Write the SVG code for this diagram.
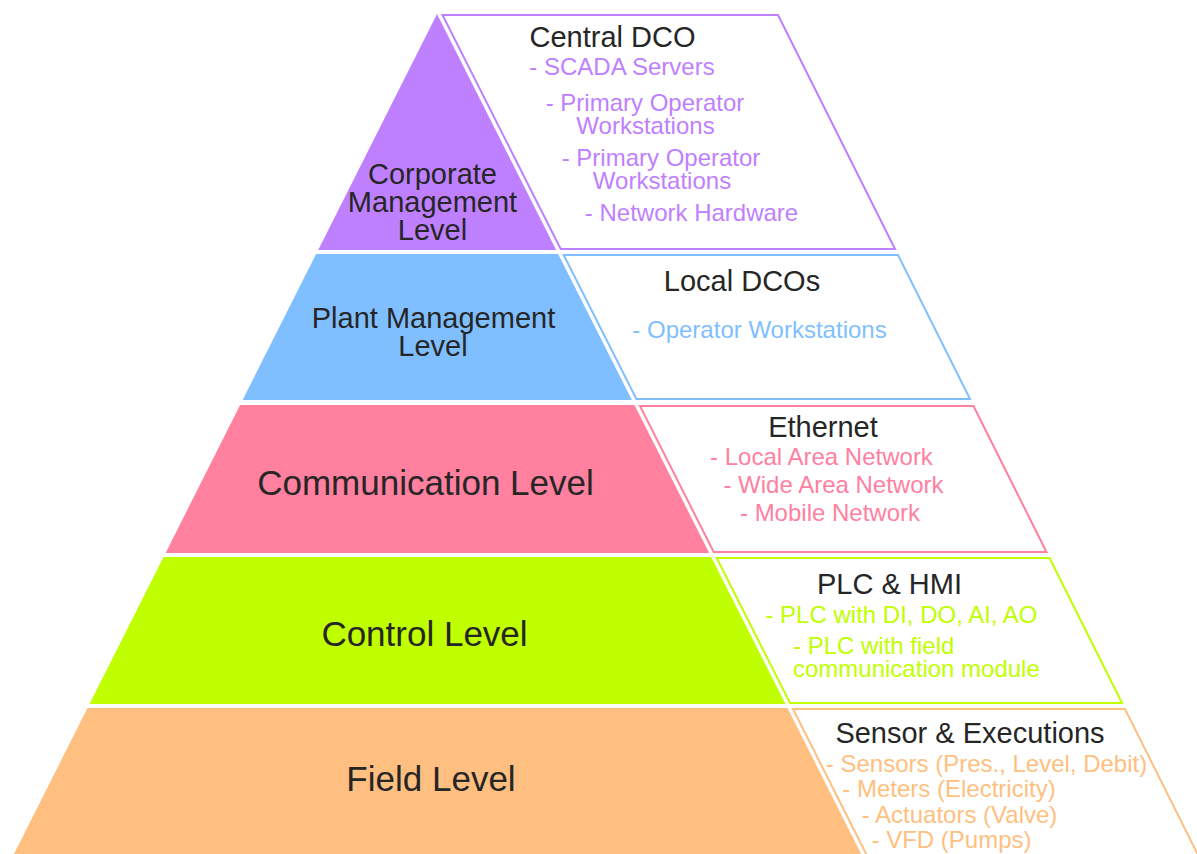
<svg xmlns="http://www.w3.org/2000/svg" width="1197" height="854" viewBox="0 0 1197 854">
<style>
  text { font-family: "Liberation Sans", Arial, sans-serif; text-anchor: middle; }
  .lbl { fill: #262626; }
  .l29 { font-size: 29px; }
  .l35 { font-size: 35px; }
  .ttl { fill: #262626; font-size: 29px; }
  .it { font-size: 24px; }
  .box { fill: #ffffff; stroke-width: 2; }
  .purple { fill: #BF80FF; }
  .blue { fill: #80BFFF; }
  .pink { fill: #FF809F; }
  .green { fill: #BFFF00; }
  .orange { fill: #FFBF80; }
  .sp { stroke: #BF80FF; }
  .sb { stroke: #80BFFF; }
  .sk { stroke: #FF809F; }
  .sg { stroke: #BFFF00; }
  .so { stroke: #FFBF80; }
  .tp { fill: #BF80FF; }
  .tb { fill: #80BFFF; }
  .tk { fill: #FF809F; }
  .tg { fill: #BFFF00; }
  .to { fill: #FFBF80; }
</style>
<rect width="1197" height="854" fill="#ffffff"/>

<g id="corporate-level">
  <polygon class="purple" points="437,14 556.2,250 318.2,250"/>
  <text class="lbl l29" x="432.5" y="184">Corporate<tspan x="432.5" dy="28">Management</tspan><tspan x="432.5" dy="28">Level</tspan></text>
</g>
<g id="central-dco">
  <polygon class="box sp" points="442.5,15 778,15 895,249 560.7,249"/>
  <text class="ttl" x="612.5" y="47">Central DCO</text>
  <text class="it tp" x="622" y="75">- SCADA Servers</text>
  <text class="it tp" x="645" y="111">- Primary Operator<tspan x="645.5" dy="23">Workstations</tspan></text>
  <text class="it tp" x="661" y="166">- Primary Operator<tspan x="662" dy="23">Workstations</tspan></text>
  <text class="it tp" x="691.5" y="221">- Network Hardware</text>
</g>

<g id="plant-level">
  <polygon class="blue" points="316.1,254 558.2,254 631.9,400 242.6,400"/>
  <text class="lbl l29" x="433.5" y="328">Plant Management<tspan x="433" dy="28">Level</tspan></text>
</g>
<g id="local-dcos">
  <polygon class="box sb" points="563.7,255 898,255 970,399 636.4,399"/>
  <text class="ttl" x="742" y="291">Local DCOs</text>
  <text class="it tb" x="759.5" y="338">- Operator Workstations</text>
</g>

<g id="communication-level">
  <polygon class="pink" points="240.1,405 634.5,405 709.2,553 165.6,553"/>
  <text class="lbl l35" x="425.5" y="495">Communication Level</text>
</g>
<g id="ethernet">
  <polygon class="box sk" points="640,406 973.5,406 1046.5,552 713.7,552"/>
  <text class="ttl" x="823" y="437">Ethernet</text>
  <text class="it tk" x="821.5" y="465">- Local Area Network</text>
  <text class="it tk" x="833.5" y="493">- Wide Area Network</text>
  <text class="it tk" x="830" y="521">- Mobile Network</text>
</g>

<g id="control-level">
  <polygon class="green" points="163.5,557 711.2,557 785.5,704 89.5,704"/>
  <text class="lbl l35" x="424.5" y="646">Control Level</text>
</g>
<g id="plc-hmi">
  <polygon class="box sg" points="716.7,558 1049.5,558 1122,703 790,703"/>
  <text class="ttl" x="889.5" y="594">PLC &amp; HMI</text>
  <text class="it tg" x="901.5" y="623">- PLC with DI, DO, AI, AO</text>
  <text class="it tg" x="793" y="654" style="text-anchor:start">- PLC with field<tspan x="793" dy="23">communication module</tspan></text>
</g>

<g id="field-level">
  <polygon class="orange" points="87.5,708 787.5,708 861.2,854 14,854"/>
  <text class="lbl l35" x="431" y="791">Field Level</text>
</g>
<g id="sensor-executions">
  <polygon class="box so" points="793,709 1125,709 1198.5,856 867.2,856"/>
  <text class="ttl" x="970" y="743">Sensor &amp; Executions</text>
  <text class="it to" x="986.5" y="772">- Sensors (Pres., Level, Debit)</text>
  <text class="it to" x="949" y="797">- Meters (Electricity)</text>
  <text class="it to" x="959.5" y="823">- Actuators (Valve)</text>
  <text class="it to" x="951.5" y="848">- VFD (Pumps)</text>
</g>
</svg>
